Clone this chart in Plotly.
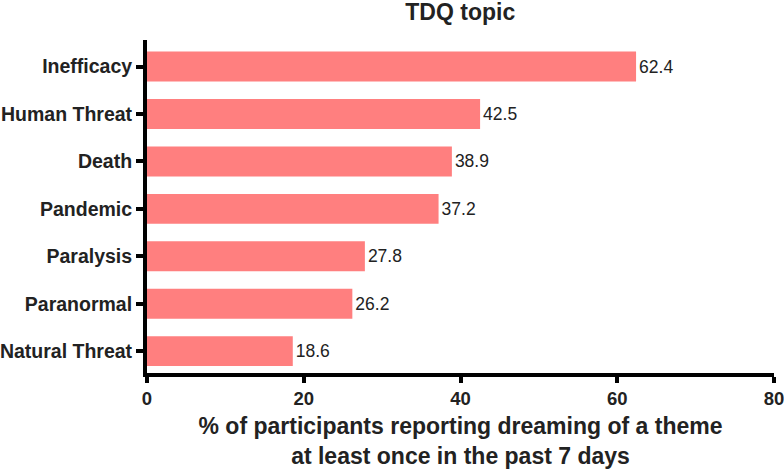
import plotly.graph_objects as go

categories = ["Inefficacy", "Human Threat", "Death", "Pandemic", "Paralysis", "Paranormal", "Natural Threat"]
values = [62.4, 42.5, 38.9, 37.2, 27.8, 26.2, 18.6]
x_ticks = [0, 20, 40, 60, 80]

FONT = "Liberation Sans, Arial, sans-serif"
TXT = "#222222"

L, R, T, B = 146.5, 10, 40, 95.5

fig = go.Figure(go.Bar(
    y=categories, x=values, orientation="h",
    marker=dict(color="#FF7F7F", line=dict(width=0)),
    text=[f"{v:.1f}" for v in values], textposition="outside",
    textfont=dict(family=FONT, size=17.5, color=TXT),
    cliponaxis=False,
))

fig.update_layout(
    width=784, height=469,
    margin=dict(l=L, r=R, t=T, b=B),
    plot_bgcolor="white", paper_bgcolor="white",
    bargap=0.37, showlegend=False,
    title=dict(text="<b>TDQ topic</b>", x=(L + 784 - R) / 2 / 784, xanchor="center",
               y=1 - 12 / 469, yanchor="middle",
               font=dict(family=FONT, size=23, color=TXT)),
    font=dict(family=FONT, color=TXT),
)
fig.update_xaxes(
    range=[0, 80], tickvals=x_ticks, ticktext=[f"<b>{t}</b>" for t in x_ticks],
    showline=True, linecolor="black", linewidth=4, showgrid=False, zeroline=False,
    ticks="outside", ticklen=6, tickwidth=4, tickcolor="black",
    tickfont=dict(family=FONT, size=18.5, color=TXT), automargin=False,
    ticklabeloverflow="allow",
    title=dict(text="<b>% of participants reporting dreaming of a theme<br>at least once in the past 7 days</b>",
               font=dict(family=FONT, size=23, color=TXT), standoff=13),
)
fig.update_yaxes(
    categoryorder="array", categoryarray=categories, autorange=False,
    range=[6.46, -0.56],
    showline=True, linecolor="black", linewidth=4, showgrid=False, zeroline=False,
    ticks="outside", ticklen=7, tickwidth=4, tickcolor="black",
    tickfont=dict(family=FONT, size=19.5, color=TXT), automargin=False,
    ticktext=[f"<b>{c}</b>" for c in categories], tickvals=categories,
)

fig.write_html("out.html", config={"displayModeBar": False},
               post_script="document.body.style.margin='0px';")
